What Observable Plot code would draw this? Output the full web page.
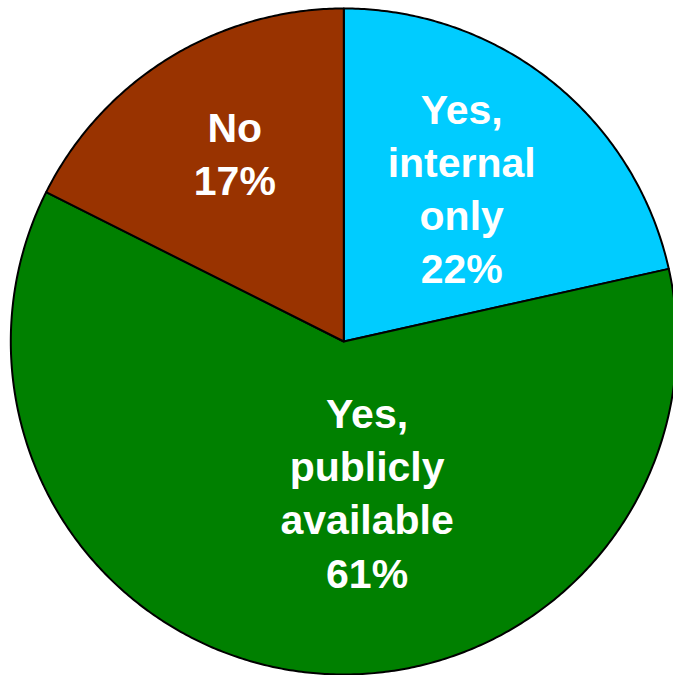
<!DOCTYPE html>
<html>
<head>
<meta charset="utf-8">
<script src="https://cdn.jsdelivr.net/npm/d3@7"></script>
<script src="https://cdn.jsdelivr.net/npm/@observablehq/plot@0.6"></script>
<style>
  html, body { margin: 0; padding: 0; background: #fff; }
  svg { display: block; }
</style>
</head>
<body>
<div id="chart"></div>
<script>
// Data (clockwise from 12 o'clock)
const categories = ["Yes, internal only", "Yes, publicly available", "No"];
const labels = ["Yes,\ninternal\nonly", "Yes,\npublicly\navailable", "No"];
const values = [21.5, 60.9, 17.6];
// percentages as printed on the chart
const pctLabels = ["22%", "61%", "17%"];
const colors = ["#00CCFF", "#008000", "#993300"];

// Label placement (fraction of radius, angle offset in degrees from mid-angle)
const labelRadius = [0.585, 0.453, 0.658];
const labelAngleShift = [-1.45, -15.9, 1.85];

const pie = d3.pie().sort(null).value(d => d.value);
const arcs = pie(categories.map((c, i) => ({ c, value: values[i], i })));

const polyPts = [];
arcs.forEach(a => {
  const key = a.data.c;
  polyPts.push({ key, x: 0, y: 0 });
  const n = Math.max(2, Math.ceil((a.endAngle - a.startAngle) / (Math.PI / 360)));
  for (let k = 0; k <= n; k++) {
    const t = a.startAngle + (a.endAngle - a.startAngle) * k / n;
    polyPts.push({ key, x: Math.sin(t), y: Math.cos(t) });
  }
  polyPts.push({ key, x: 0, y: 0 });
});

const labelPts = arcs.map(a => {
  const i = a.data.i;
  const mid = (a.startAngle + a.endAngle) / 2 + labelAngleShift[i] * Math.PI / 180;
  return {
    x: labelRadius[i] * Math.sin(mid),
    y: labelRadius[i] * Math.cos(mid),
    text: labels[i] + "\n" + pctLabels[i]
  };
});

const R = 333;
const chart = Plot.plot({
  width: 673,
  height: 675,
  margin: 0,
  x: { domain: [-343.3 / R, 329.7 / R], axis: null },
  y: { domain: [-334 / R, 341 / R], axis: null },
  color: { domain: categories, range: colors },
  marks: [
    Plot.line(polyPts, {
      x: "x", y: "y", z: "key", fill: "key",
      stroke: "black", strokeWidth: 2, strokeLinejoin: "round", curve: "linear"
    }),
    Plot.text(labelPts, {
      x: "x", y: "y", text: "text",
      fill: "white", fontSize: 41, fontWeight: "bold",
      fontFamily: "Liberation Sans, Arial, sans-serif",
      lineHeight: 1.3, lineAnchor: "middle", textAnchor: "middle"
    })
  ]
});
document.getElementById("chart").appendChild(chart);
</script>
</body>
</html>
